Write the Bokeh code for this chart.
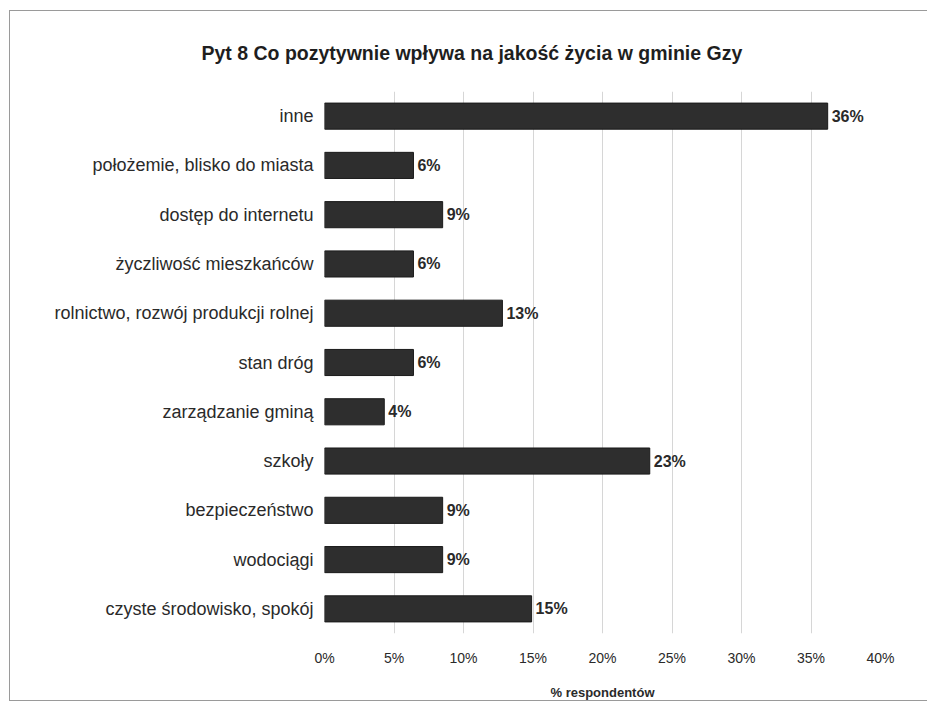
from bokeh.plotting import figure
from bokeh.models import FactorRange, Range1d, FixedTicker, PrintfTickFormatter, ColumnDataSource, Title
from bokeh.core.properties import value
from bokeh.embed import file_html
from bokeh.resources import INLINE

title_text = "Pyt 8 Co pozytywnie wpływa na jakość życia w gminie Gzy"
categories = [
    "inne",
    "położemie, blisko do miasta",
    "dostęp do internetu",
    "życzliwość mieszkańców",
    "rolnictwo, rozwój produkcji rolnej",
    "stan dróg",
    "zarządzanie gminą",
    "szkoły",
    "bezpieczeństwo",
    "wodociągi",
    "czyste środowisko, spokój",
]
values = [36.2, 6.4, 8.5, 6.4, 12.8, 6.4, 4.3, 23.4, 8.5, 8.5, 14.9]
value_labels = ["36%", "6%", "9%", "6%", "13%", "6%", "4%", "23%", "9%", "9%", "15%"]
x_ticks = [0, 5, 10, 15, 20, 25, 30, 35, 40]
x_title = "% respondentów"

FONT = "Liberation Sans"

src = ColumnDataSource(dict(cat=categories, val=values, lab=value_labels))

p = figure(
    width=918, height=691,
    y_range=FactorRange(factors=list(reversed(categories))),
    x_range=Range1d(0, 40),
    output_backend="svg", toolbar_location=None,
    min_border_left=314, min_border_right=48, min_border_top=79, min_border_bottom=68,
)
p.styles = {"margin-left": "9px", "margin-top": "10px",
            "border-left": "1px solid #9a9a9a", "border-top": "1px solid #9a9a9a",
            "border-bottom": "1px solid #9a9a9a", "border-right": "0px none"}

p.title = Title(text=title_text, align="left", offset=-123, standoff=56,
                text_font=FONT, text_font_size="19.5px", text_font_style="bold",
                text_color="#1e1e1e")

p.hbar(y="cat", right="val", left=0, height=0.53, source=src,
       fill_color="#2e2e2e", line_color="#1a1a1a", line_width=1)

p.text(x="val", y="cat", text="lab", source=src, x_offset=4,
       text_font=value(FONT), text_font_size="16px", text_font_style="bold",
       text_color="#2a2a2a", text_baseline="middle", text_align="left")

p.outline_line_color = None
p.background_fill_color = "white"
p.border_fill_color = "white"

p.xgrid.grid_line_color = "#d6d6d6"
p.xgrid.ticker = FixedTicker(ticks=x_ticks)
p.ygrid.grid_line_color = None

xa = p.xaxis[0]
xa.ticker = FixedTicker(ticks=x_ticks)
xa.formatter = PrintfTickFormatter(format="%d%%")
xa.axis_line_color = None
xa.major_tick_line_color = None
xa.minor_tick_line_color = None
xa.major_tick_out = 0
xa.minor_tick_out = 0
xa.major_label_standoff = 16
xa.major_label_text_font = FONT
xa.major_label_text_font_size = "14px"
xa.major_label_text_color = "#2a2a2a"
xa.axis_label = x_title
xa.axis_label_text_font = FONT
xa.axis_label_text_font_size = "13px"
xa.axis_label_text_font_style = "bold"
xa.axis_label_text_color = "#2a2a2a"
xa.axis_label_standoff = 16

ya = p.yaxis[0]
ya.axis_line_color = None
ya.major_tick_line_color = None
ya.minor_tick_line_color = None
ya.major_tick_out = 0
ya.minor_tick_out = 0
ya.major_label_standoff = 11
ya.major_label_text_font = FONT
ya.major_label_text_font_size = "18px"
ya.major_label_text_color = "#2a2a2a"

open("out.html", "w").write(file_html(p, INLINE))
